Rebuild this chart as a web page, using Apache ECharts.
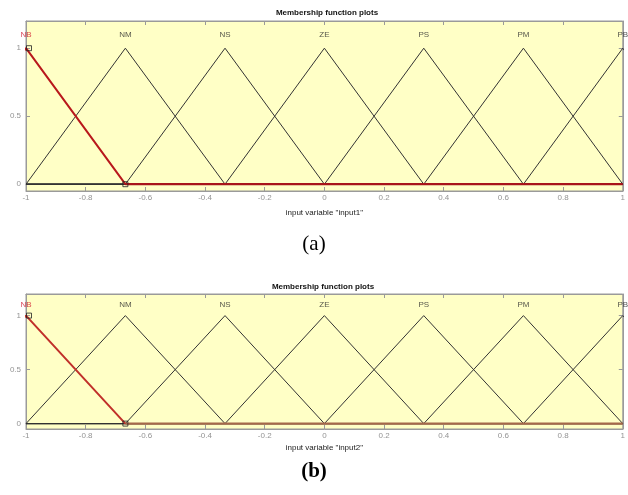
<!DOCTYPE html>
<html>
<head>
<meta charset="utf-8">
<script src="https://cdn.jsdelivr.net/npm/echarts@6/dist/echarts.min.js"></script>
<style>html,body{margin:0;padding:0;background:#fff}#c{width:628px;height:495px}</style>
</head>
<body>
<div id="c"></div>
<script>
// ---- data ----
const mfNames = ['NB', 'NM', 'NS', 'ZE', 'PS', 'PM', 'PB'];
// triangular MF parameters [a, b, c]
const mfParams = [
  [-1.333, -1, -0.667],
  [-1, -0.667, -0.333],
  [-0.667, -0.333, 0],
  [-0.333, 0, 0.333],
  [0, 0.333, 0.667],
  [0.333, 0.667, 1],
  [0.667, 1, 1.333]
];
const selectedMf = 0;           // NB highlighted in red
const xRange = [-1, 1];
const yTicks = [0, 0.5, 1];
const labelLevel = 1.1;
const axisTitles = ['input variable "input1"', 'input variable "input2"'];
const panelCaptions = ['(a)', '(b)'];
const plotTitle = 'Membership function plots';

// ---- layout ----
const panels = [
  { left: 26, right: 1, top: 21, height: 170, nameGap: 18, titleY: 13, captionY: 244, captionBold: false, baseColor: '#a8141a', diagColor: '#b8181c' },
  { left: 26, right: 5, top: 294, height: 135, nameGap: 15, titleY: 287, captionY: 472, captionBold: true, baseColor: '#a5694a', diagColor: '#c0302a' }
];

const grids = [], xAxes = [], yAxes = [], series = [], graphics = [];
const gray = '#939393';

function mfPoints(p) {
  const pts = [];
  if (p[0] > xRange[0]) pts.push([xRange[0], 0]);
  pts.push([p[0], 0], [p[1], 1], [p[2], 0]);
  if (p[2] < xRange[1]) pts.push([xRange[1], 0]);
  return pts;
}

panels.forEach((P, gi) => {
  grids.push({ left: P.left, right: P.right, top: P.top, height: P.height, show: true,
    backgroundColor: '#ffffc6', borderColor: '#9a9a9a', borderWidth: 1 });
  const xi = xAxes.length;
  xAxes.push({
    type: 'value', gridIndex: gi, min: xRange[0], max: xRange[1], interval: 0.2,
    position: 'bottom',
    name: axisTitles[gi], nameLocation: 'middle', nameGap: P.nameGap,
    nameTextStyle: { fontFamily: 'Liberation Sans', fontSize: 8, color: '#222' },
    axisLine: { show: true, onZero: false, lineStyle: { color: '#9a9a9a', width: 1 } },
    axisTick: { show: true, inside: true, length: 4, lineStyle: { color: '#9a9a9a' } },
    axisLabel: { show: true, margin: 3, fontFamily: 'Liberation Sans', fontSize: 8, color: gray,
      formatter: v => String(+v.toFixed(1)) },
    splitLine: { show: false }
  });
  xAxes.push({
    type: 'value', gridIndex: gi, min: xRange[0], max: xRange[1], interval: 0.2,
    position: 'top',
    axisLine: { show: true, onZero: false, lineStyle: { color: '#9a9a9a', width: 1 } },
    axisTick: { show: true, inside: true, length: 4, lineStyle: { color: '#9a9a9a' } },
    axisLabel: { show: false }, splitLine: { show: false }
  });
  const yi = yAxes.length;
  yAxes.push({
    type: 'value', gridIndex: gi, min: -0.05, max: 1.2, position: 'left',
    axisLine: { show: true, onZero: false, lineStyle: { color: '#9a9a9a', width: 1 } },
    axisTick: { show: true, inside: true, length: 4, customValues: yTicks, lineStyle: { color: '#9a9a9a' } },
    axisLabel: { show: true, margin: 5, fontFamily: 'Liberation Sans', fontSize: 8, color: gray, customValues: yTicks },
    splitLine: { show: false }
  });
  yAxes.push({
    type: 'value', gridIndex: gi, min: -0.05, max: 1.2, position: 'right',
    axisLine: { show: true, onZero: false, lineStyle: { color: '#9a9a9a', width: 1 } },
    axisTick: { show: true, inside: true, length: 4, customValues: yTicks, lineStyle: { color: '#9a9a9a' } },
    axisLabel: { show: false }, splitLine: { show: false }
  });

  // non-selected MFs in black
  mfParams.forEach((p, k) => {
    if (k === selectedMf) return;
    series.push({ type: 'line', xAxisIndex: xi, yAxisIndex: yi, data: mfPoints(p),
      symbol: 'none', clip: true, silent: true, animation: false,
      lineStyle: { color: '#333', width: 1 } });
  });
  // selected MF: diagonal part and zero part
  const s = mfParams[selectedMf];
  series.push({ type: 'line', xAxisIndex: xi, yAxisIndex: yi, data: [[s[0], 0], [s[1], 1], [s[2], 0]],
    symbol: 'none', clip: true, animation: false, z: 5,
    lineStyle: { color: P.diagColor, width: 2 } });
  series.push({ type: 'line', xAxisIndex: xi, yAxisIndex: yi, data: [[s[2], 0], [xRange[1], 0]],
    symbol: 'none', clip: true, animation: false, z: 5,
    lineStyle: { color: P.baseColor, width: 2.2 } });
  // handle squares of selected MF
  series.push({ type: 'scatter', xAxisIndex: xi, yAxisIndex: yi,
    data: [{ value: [s[1], 1], symbolOffset: [3, 0] }, { value: [s[2], 0], symbolOffset: [0, 0] }],
    symbol: 'rect', symbolSize: 5, clip: false, animation: false, z: 6,
    itemStyle: { color: 'rgba(0,0,0,0)', borderColor: '#222', borderWidth: 1 } });
  // MF names
  series.push({ type: 'scatter', xAxisIndex: xi, yAxisIndex: yi,
    data: mfParams.map((p, k) => ({ value: [p[1], labelLevel], name: mfNames[k],
      label: { color: k === selectedMf ? '#d0142a' : '#2a2a2a' } })),
    symbolSize: 0, clip: false, animation: false, z: 7,
    label: { show: true, position: 'inside', formatter: d => d.name,
      fontFamily: 'Liberation Sans', fontSize: 8 } });

  graphics.push({ type: 'text', x: gi === 0 ? 327 : 323, y: P.titleY,
    style: { text: plotTitle, textAlign: 'center', textVerticalAlign: 'middle',
      font: 'bold 8px "Liberation Sans"', fill: '#111' } });
  graphics.push({ type: 'text', x: 314, y: P.captionY,
    style: { text: panelCaptions[gi], textAlign: 'center', textVerticalAlign: 'middle',
      font: (P.captionBold ? 'bold ' : '') + '21px "Liberation Serif"', fill: '#000' } });
});

const chart = echarts.init(document.getElementById('c'), null, { renderer: 'canvas' });
chart.setOption({
  backgroundColor: '#fff',
  animation: false,
  grid: grids, xAxis: xAxes, yAxis: yAxes, series: series, graphic: graphics
});
</script>
</body>
</html>
